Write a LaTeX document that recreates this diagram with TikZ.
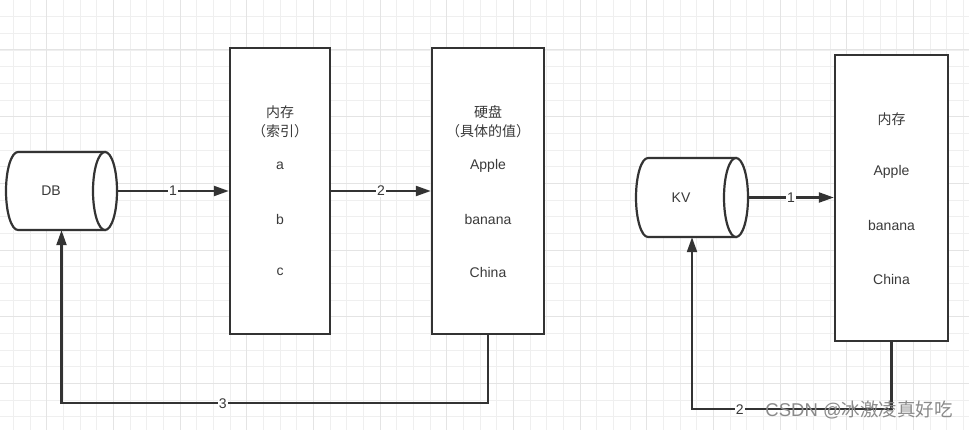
\documentclass[tikz,border=0pt]{standalone}
\usepackage{fontspec}
\setmainfont{Liberation Sans}
\newfontfamily\cjk{Noto Sans CJK SC}
\usetikzlibrary{arrows.meta}
\definecolor{ink}{HTML}{333333}
\definecolor{txtink}{HTML}{3A3A3A}
\definecolor{gridminor}{HTML}{EFEFEF}
\definecolor{gridmajor}{HTML}{E4E4E4}
\definecolor{wm}{HTML}{8A8A8A}
\begin{document}
\begin{tikzpicture}[x=1pt,y=-1pt,
  conn/.style={draw=ink,line width=2.2pt},
  arr/.style={conn,-{Triangle[length=15pt,width=10pt]}},
  boxnode/.style={draw=ink,line width=2.4pt,fill=white,minimum width=#1,minimum height=286pt,inner sep=0pt},
  cylnode/.style={inner sep=0pt},
  txt/.style={text=txtink,font=\fontsize{14}{16}\selectfont,inner sep=0pt},
  lbl/.style={text=txtink,font=\fontsize{14}{16}\selectfont,fill=white,inner sep=1pt},
  cylline/.style={draw=ink,line width=2.2pt,fill=white}
]
\useasboundingbox (0,0) rectangle (969,430);
\fill[white] (0,0) rectangle (969,430);
% grid
\foreach \i in {0,...,57} \draw[gridminor,line width=0.9pt] ({13.333+16.6667*\i},0) -- ({13.333+16.6667*\i},430);
\foreach \j in {1,...,25} \draw[gridminor,line width=0.9pt] (0,{16.6667*\j}) -- (969,{16.6667*\j});
\foreach \i in {0,...,14} \draw[gridmajor,line width=1pt] ({46.667+66.667*\i},0) -- ({46.667+66.667*\i},430);
\foreach \j in {0,...,5} \draw[gridmajor,line width=1pt] (0,{50+66.667*\j}) -- (969,{50+66.667*\j});

% DB cylinder
\path[cylline] (18,152) -- (105,152) -- (105,230) -- (18,230) arc[start angle=90,end angle=270,x radius=12,y radius=39] -- cycle;
\draw[cylline] (105,191) ellipse[x radius=12,y radius=39];
\node[cylnode,minimum width=111pt,minimum height=78pt] (db) at (61.5,191) {};
\node[txt] (dbt) at (51,191) {DB};

% KV cylinder
\path[cylline] (648,158) -- (736,158) -- (736,237) -- (648,237) arc[start angle=90,end angle=270,x radius=12,y radius=39.5] -- cycle;
\draw[cylline] (736,197.5) ellipse[x radius=12,y radius=39.5];
\node[cylnode,minimum width=112pt,minimum height=79pt] (kv) at (692,197.5) {};
\node[txt] (kvt) at (681,198) {KV};

% boxes
\node[boxnode=100pt] (b1) at (280,191) {};
\node[boxnode=112pt] (b2) at (488,191) {};
\node[boxnode=113pt] (b3) at (891.5,198) {};

% box 1 texts
\node[txt] (b1t1) at (280,112) {\cjk 内存};
\node[txt] (b1t2) at (280,131) {\cjk （索引）};
\node[txt] (b1t3) at (280,166) {a};
\node[txt] (b1t4) at (280,219) {b};
\node[txt] (b1t5) at (280,272) {c};
% box 2 texts
\node[txt] (b2t1) at (488,112) {\cjk 硬盘};
\node[txt] (b2t2) at (488,131) {\cjk （具体的值）};
\node[txt] (b2t3) at (488,166) {Apple};
\node[txt] (b2t4) at (488,219) {banana};
\node[txt] (b2t5) at (488,272) {China};
% box 3 texts
\node[txt] (b3t1) at (891.5,119) {\cjk 内存};
\node[txt] (b3t2) at (891.5,172) {Apple};
\node[txt] (b3t3) at (891.5,225) {banana};
\node[txt] (b3t4) at (891.5,279) {China};

% connectors
\draw[arr] (db.east) -- node[lbl]{1} (b1.west |- db.east);
\draw[arr] (b1.east |- db.east) -- node[lbl]{2} (b2.west |- db.east);
\draw[arr] (b2.south) -- ++(0,68) coordinate (c3a) -- node[lbl,pos=0.622]{3} (c3a -| db.south) -- (db.south);
\draw[arr] (kv.east) -- node[lbl]{1} (b3.west |- kv.east);
\draw[arr] (b3.south) -- ++(0,67) coordinate (c2a) -- node[lbl,pos=0.761]{2} (c2a -| kv.south) -- (kv.south);

% watermark
\node[anchor=east,text=wm,font=\fontsize{18.5}{20}\selectfont,inner sep=0pt] (wmk) at (953,410) {CSDN @{\cjk 冰激凌真好吃}};
\end{tikzpicture}
\end{document}
